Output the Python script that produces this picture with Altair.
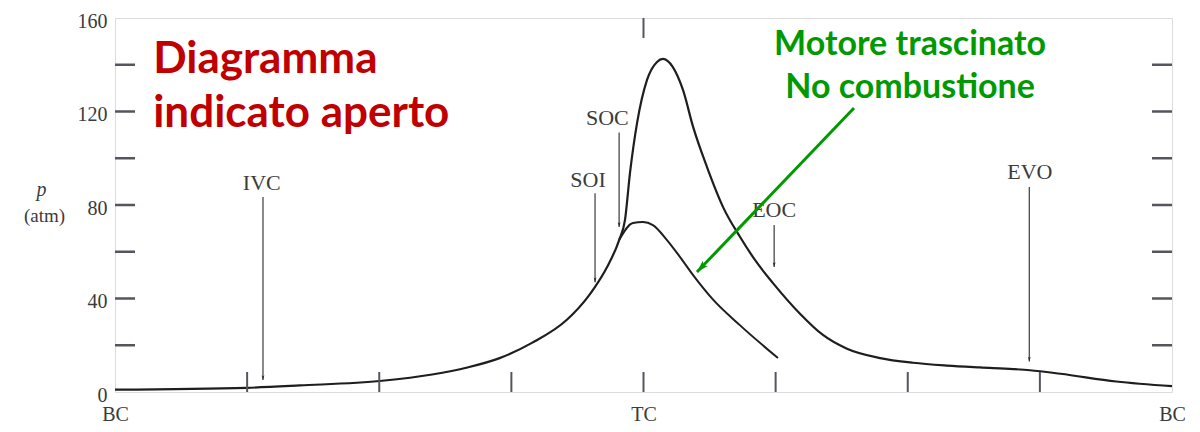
import altair as alt
import pandas as pd

# ---- data (crank angle in degrees, pressure in atm) ----
crank_fired = [-180, -135, -117, -89, -72, -60, -49, -38, -26, -19, -16.5, -12.4, -8.3, -6.3,
               -4.6, -2.2, 1.2, 4.6, 6.6, 10, 13.5, 16.9, 21.6, 27.1, 32.9, 38.7, 44.1, 53.3,
               61, 69.3, 80.6, 91.8, 103.4, 114.6, 125.9, 131.6, 142, 161, 180]
p_fired = [1.0, 1.8, 2.8, 4.8, 7.5, 10.5, 14.5, 21, 31, 40.6, 45, 53.5, 65, 73.6,
           93.7, 115, 133.5, 141.2, 142.5, 139, 129, 113.4, 96.3, 79.1, 66.3, 55.2, 46.6, 33.5,
           24.5, 18.5, 14.5, 12.5, 11.3, 10.5, 9.8, 9.3, 7.8, 4.5, 2.5]

crank_motored = [-8.3, -3.6, -0.2, 3.2, 8, 12.4, 16.9, 23.7, 32.9, 45.8]
p_motored = [65, 72.3, 72.7, 71.4, 65, 57.8, 50, 39.5, 28.5, 14.5]

event_names = ["IVC", "SOI", "SOC", "EOC", "EVO"]
event_label_x = [-130, -18.9, -12.3, 44.5, 131.6]
event_label_p = [89.4, 90.7, 117.2, 77.9, 94.1]
event_arrow_x = [-129.6, -16.5, -8.3, 44.5, 131.4]
event_arrow_p0 = [83.4, 85, 111, 71.4, 87.7]
event_arrow_p1 = [5.1, 47, 70.6, 53.5, 13]

y_tick_labels = [0, 40, 80, 120, 160]
y_minor_ticks = [20, 40, 60, 80, 100, 120, 140]
x_tick_labels = [-180, 0, 180]
x_minor_ticks = [-135, -90, -45, 0, 45, 90, 135]
top_ticks = [0]

ytitle_sym = ["p"]
ytitle_unit = ["(atm)"]

red_lines = ["Diagramma", "indicato aperto"]
red_x = [-167, -167]
red_p = [136.5, 113.4]

green_lines = ["Motore trascinato", "No combustione"]
green_x = [90.8, 90.8]
green_p = [144.2, 125.8]

green_arrow_from = (71.7, 121.5)
green_arrow_to = (18.2, 51.3)

W, H = 1057, 374
TICK = 20
AX = "#55555f"
INK = "#1e1e1e"
SERIF = "Liberation Serif"

xs = alt.Scale(domain=[-180, 180], nice=False, zero=False)
ys = alt.Scale(domain=[0, 160], nice=False, zero=False)

AXX = alt.Axis(values=x_tick_labels, labelExpr="datum.value == 0 ? 'TC' : 'BC'",
               tickSize=0, domain=False, grid=False, labelFont=SERIF, title=None,
               labelFontSize=20, labelColor="#3a3a3a", labelPadding=12, labelFlush=False)
AXY = alt.Axis(values=y_tick_labels, tickSize=0, domain=False, grid=False, title=None,
               labelFont=SERIF, labelFontSize=20, labelColor="#3a3a3a",
               labelPadding=8, labelFlush=False, labelOffset=3)


def X(f):
    return alt.X(f, scale=xs, axis=AXX, title=None)


def Y(f):
    return alt.Y(f, scale=ys, axis=AXY, title=None)


fired = pd.DataFrame({"a": crank_fired, "p": p_fired})
motored = pd.DataFrame({"a": crank_motored, "p": p_motored})
events = pd.DataFrame({"name": event_names, "lx": event_label_x, "lp": event_label_p,
                       "ax": event_arrow_x, "p0": event_arrow_p0, "p1": event_arrow_p1})

base = alt.Chart(fired).mark_line(color=INK, strokeWidth=2.2, interpolate="monotone").encode(
    x=X("a:Q"), y=Y("p:Q"))

mot = alt.Chart(motored).mark_line(color=INK, strokeWidth=2.0, interpolate="monotone").encode(
    x=X("a:Q"), y=Y("p:Q"))

# inward ticks
lt = alt.Chart(pd.DataFrame({"v": y_minor_ticks})).mark_rule(color=AX, strokeWidth=2.5).encode(
    y=Y("v:Q"), x=alt.value(0), x2=alt.value(TICK))
rt = alt.Chart(pd.DataFrame({"v": y_minor_ticks})).mark_rule(color=AX, strokeWidth=2.5).encode(
    y=Y("v:Q"), x=alt.value(W), x2=alt.value(W - TICK))
bt = alt.Chart(pd.DataFrame({"v": x_minor_ticks})).mark_rule(color=AX, strokeWidth=2).encode(
    x=X("v:Q"), y=alt.value(H), y2=alt.value(H - TICK))
tt = alt.Chart(pd.DataFrame({"v": top_ticks})).mark_rule(color=AX, strokeWidth=2).encode(
    x=X("v:Q"), y=alt.value(0), y2=alt.value(TICK))

# event markers
ev_text = alt.Chart(events).mark_text(font=SERIF, fontSize=22, color="#3c3c3c",
                                       align="center", baseline="middle").encode(
    x=X("lx:Q"), y=Y("lp:Q"), text="name:N")
ev_shaft = alt.Chart(events).mark_rule(color="#4a4a4a", strokeWidth=1.3).encode(
    x=X("ax:Q"), y=Y("p0:Q"), y2="p1:Q")
HEAD = "M0,0 L0.45,1.5 L0,1.15 L-0.45,1.5 Z"
ev_head = alt.Chart(events).mark_point(shape=HEAD, filled=True, color="#2a2a2a", size=40,
                                        angle=180, opacity=1).encode(
    x=X("ax:Q"), y=Y("p1:Q"))

# y-axis title
yt1 = alt.Chart(pd.DataFrame({"t": ytitle_sym, "x": [-205], "p": [86.4]})).mark_text(
    font=SERIF, fontSize=20, fontStyle="italic", color="#3c3c3c", align="center",
    baseline="middle").encode(x=X("x:Q"), y=Y("p:Q"), text="t:N")
yt2 = alt.Chart(pd.DataFrame({"t": ytitle_unit, "x": [-204], "p": [75.3]})).mark_text(
    font=SERIF, fontSize=19, color="#3c3c3c", align="center", baseline="middle").encode(
    x=X("x:Q"), y=Y("p:Q"), text="t:N")

red = alt.Chart(pd.DataFrame({"t": red_lines, "x": red_x, "p": red_p})).mark_text(
    font="Lato", fontWeight="bold", fontSize=44, color="#C00000", align="left",
    baseline="alphabetic").encode(x=X("x:Q"), y=Y("p:Q"), text="t:N")

green = alt.Chart(pd.DataFrame({"t": green_lines, "x": green_x, "p": green_p})).mark_text(
    font="Lato", fontWeight="bold", fontSize=34, color="#009900", align="center",
    baseline="alphabetic").encode(x=X("x:Q"), y=Y("p:Q"), text="t:N")

ga = pd.DataFrame({"x0": [green_arrow_from[0]], "p0": [green_arrow_from[1]],
                   "x1": [green_arrow_to[0]], "p1": [green_arrow_to[1]]})
g_shaft = alt.Chart(ga).mark_rule(color="#009900", strokeWidth=3).encode(
    x=X("x0:Q"), y=Y("p0:Q"), x2="x1:Q", y2="p1:Q")
g_head = alt.Chart(ga).mark_point(shape=HEAD, filled=True, color="#009900", size=260,
                                   angle=224, opacity=1).encode(
    x=X("x1:Q"), y=Y("p1:Q"))

chart = alt.layer(base, mot, lt, rt, bt, tt, ev_shaft, ev_head, ev_text, yt1, yt2, red, green,
                  g_shaft, g_head).properties(
    width=W, height=H,
    autosize=alt.AutoSizeParams(type="none"),
    padding={"left": 107, "top": 10, "right": 20, "bottom": 32},
).configure_view(stroke=AX, strokeWidth=2.5).configure(background="white")

chart.save("out.html", embed_options={"renderer": "svg", "actions": False})
